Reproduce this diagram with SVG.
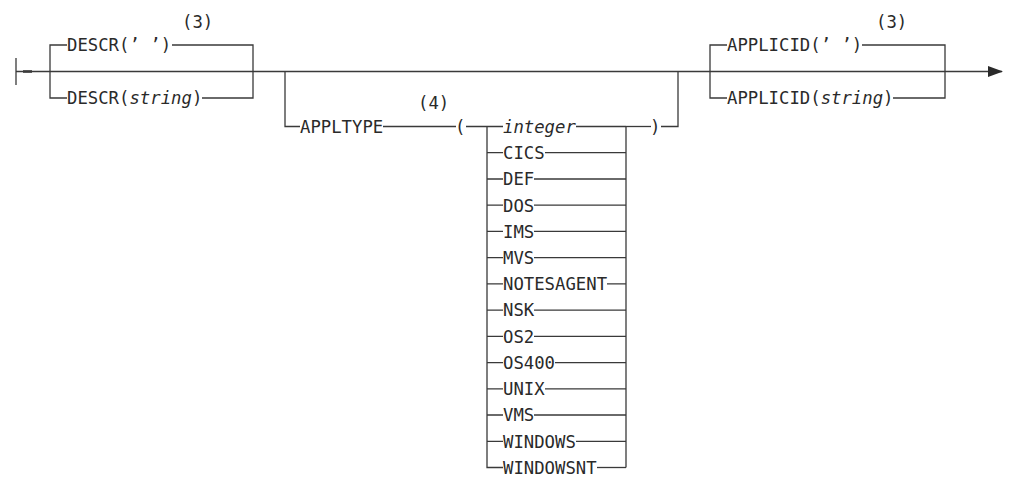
<svg xmlns="http://www.w3.org/2000/svg" width="1019" height="478" viewBox="0 0 1019 478">
<style>
.l{fill:none;stroke:#3a3a3a;stroke-width:1.3}
.t{font-family:"DejaVu Sans Mono","Liberation Mono",monospace;font-size:17.3px;fill:#2a2a2a}
.i{font-style:italic}
</style>
<defs>
<marker id="arr" markerWidth="16" markerHeight="12" refX="14" refY="5.5" orient="auto" markerUnits="userSpaceOnUse">
<path d="M0,0 L15,5.5 L0,11 Z" fill="#2a2a2a"/>
</marker>
</defs>
<rect width="1019" height="478" fill="#fff"/>
<g id="connectors">
<path class="l" d="M16,58 V85"/>
<path class="l" style="stroke-width:2.6" d="M23,71.5 H32"/>
<path class="l" d="M16,71.5 H1002" marker-end="url(#arr)"/>
</g>
<g id="descr">
<path class="l" d="M67,45 H50 V98 H67"/>
<path class="l" d="M172,45 H253 V98 H202"/>
<text class="t" x="67" y="51.3">DESCR(’ ’)</text>
<text class="t" x="67" y="104.3">DESCR(<tspan class="i">string</tspan>)</text>
<text class="t" x="182" y="28">(3)</text>
</g>
<g id="appltype">
<path class="l" d="M285,71.5 V126.5 H300"/>
<path class="l" d="M383,126.5 H456"/>
<text class="t" x="300" y="132.8">APPLTYPE</text>
<text class="t" x="418" y="109">(4)</text>
<text class="t" x="455" y="132.8">(</text>
<path class="l" d="M466,126.5 H503"/>
<path class="l" d="M626,126.5 H651"/>
<text class="t" x="650" y="132.8">)</text>
<path class="l" d="M661,126.5 H678 V71.5"/>
<path class="l" d="M487,126.5 V467.5 H503"/>
<path class="l" d="M626,126.5 V467.5"/>
</g>
<g id="choices">
<text class="t i" x="503" y="132.8">integer</text><path class="l" d="M576,126.5 H626"/>
<path class="l" d="M487,152.7 H503 M545,152.7 H626"/><text class="t" x="503" y="159">CICS</text>
<path class="l" d="M487,179 H503 M534,179 H626"/><text class="t" x="503" y="185.3">DEF</text>
<path class="l" d="M487,205.2 H503 M534,205.2 H626"/><text class="t" x="503" y="211.5">DOS</text>
<path class="l" d="M487,231.4 H503 M534,231.4 H626"/><text class="t" x="503" y="237.7">IMS</text>
<path class="l" d="M487,257.7 H503 M534,257.7 H626"/><text class="t" x="503" y="264">MVS</text>
<path class="l" d="M487,283.9 H503 M607,283.9 H626"/><text class="t" x="503" y="290.2">NOTESAGENT</text>
<path class="l" d="M487,310.1 H503 M534,310.1 H626"/><text class="t" x="503" y="316.4">NSK</text>
<path class="l" d="M487,336.3 H503 M534,336.3 H626"/><text class="t" x="503" y="342.6">OS2</text>
<path class="l" d="M487,362.6 H503 M555,362.6 H626"/><text class="t" x="503" y="368.9">OS400</text>
<path class="l" d="M487,388.8 H503 M545,388.8 H626"/><text class="t" x="503" y="395.1">UNIX</text>
<path class="l" d="M487,415 H503 M534,415 H626"/><text class="t" x="503" y="421.3">VMS</text>
<path class="l" d="M487,441.3 H503 M576,441.3 H626"/><text class="t" x="503" y="447.6">WINDOWS</text>
<path class="l" d="M597,467.5 H626"/><text class="t" x="503" y="473.8">WINDOWSNT</text>
</g>
<g id="applicid">
<path class="l" d="M727,45 H710 V98 H727"/>
<path class="l" d="M862,45 H945 V98 H893"/>
<text class="t" x="727" y="51.3">APPLICID(’ ’)</text>
<text class="t" x="727" y="104.3">APPLICID(<tspan class="i">string</tspan>)</text>
<text class="t" x="876" y="28">(3)</text>
</g>
</svg>
